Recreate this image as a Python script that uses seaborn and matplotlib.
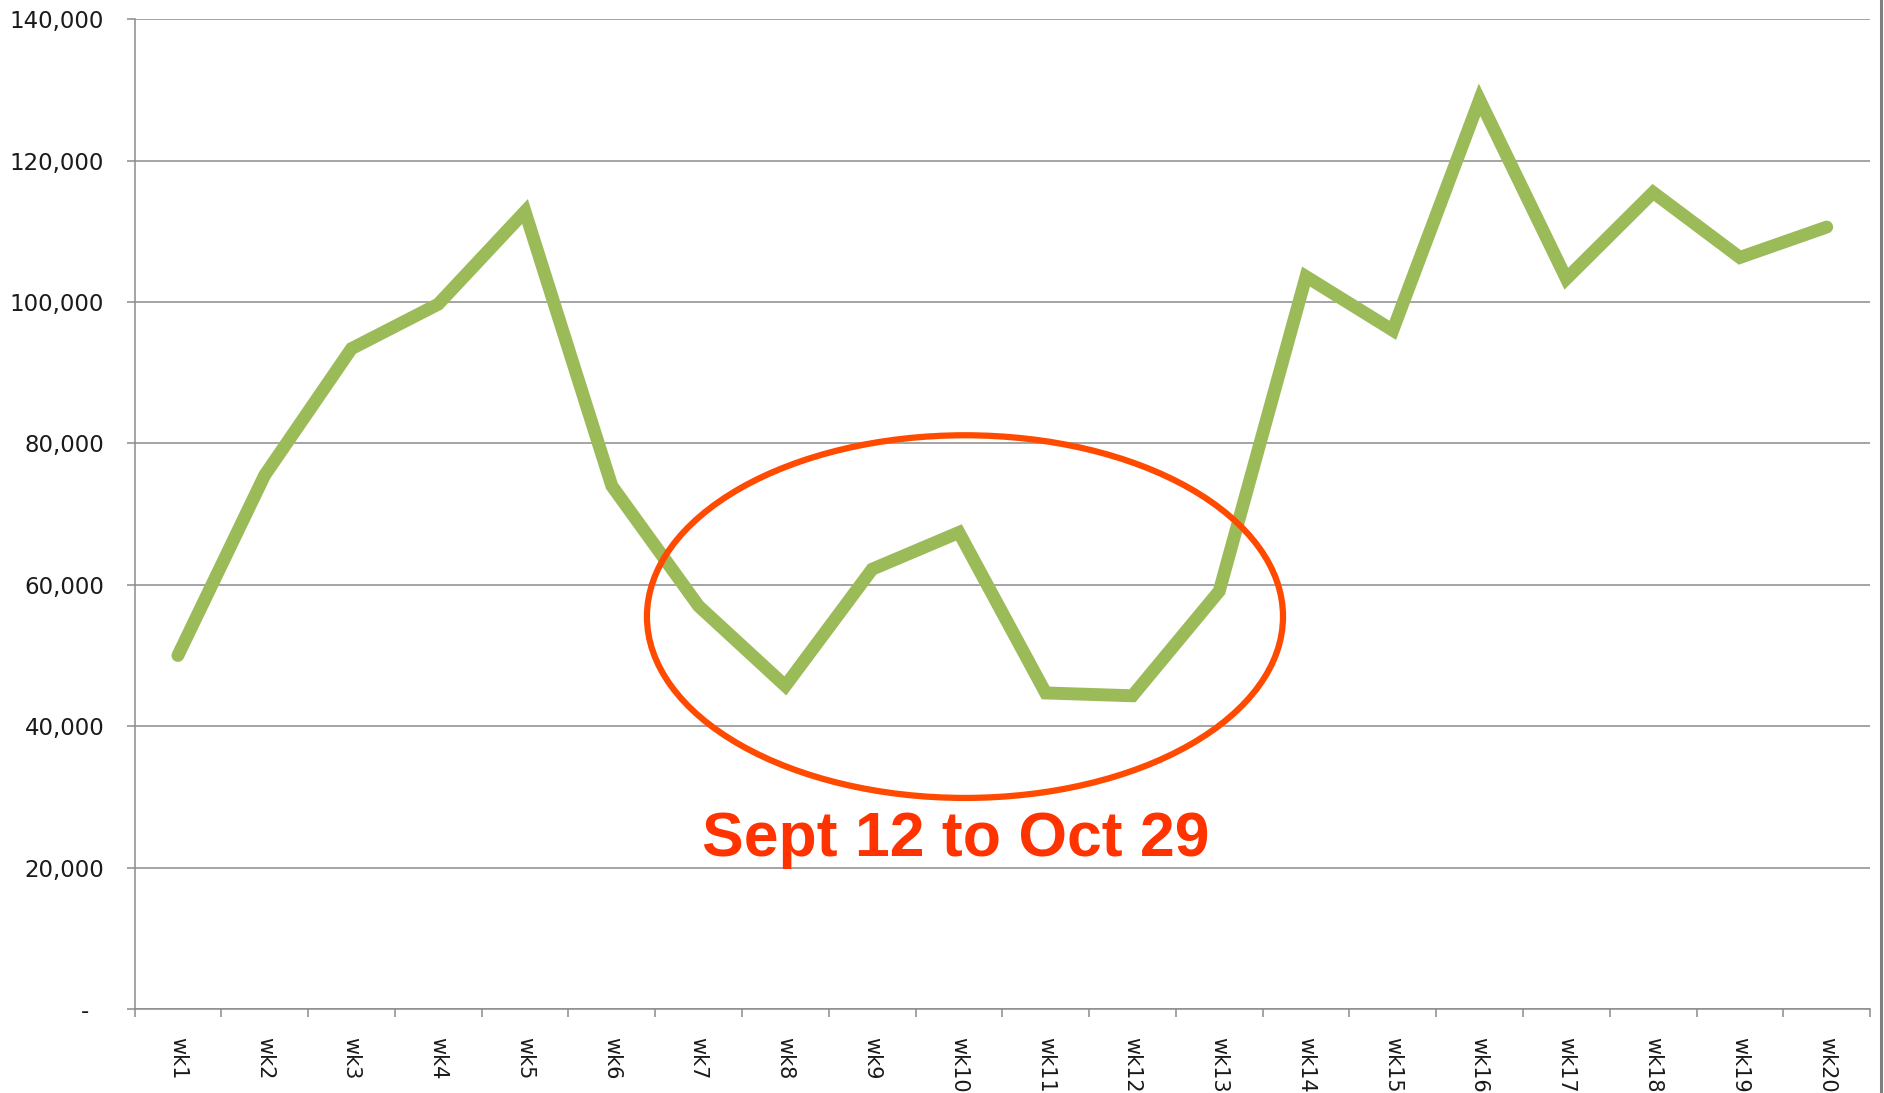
import matplotlib
matplotlib.use("Agg")
import matplotlib.pyplot as plt
import seaborn as sns
import pandas as pd
from matplotlib.patches import Ellipse
from matplotlib.lines import Line2D
from matplotlib.ticker import FuncFormatter, FixedLocator

weeks = [f"wk{i}" for i in range(1, 21)]
values = [50000, 75500, 93400, 99700, 112800, 74000, 57000, 45700, 62200, 67400,
          44700, 44300, 59100, 103600, 96000, 128600, 103300, 115500, 106300, 110600]
y_ticks = [0, 20000, 40000, 60000, 80000, 100000, 120000, 140000]
annotation = "Sept 12 to Oct 29"

df = pd.DataFrame({"week": weeks, "value": values})

sns.set_style("white")
plt.rcParams['font.family'] = ['DejaVu Sans']

fig = plt.figure(figsize=(18.84, 10.93), dpi=100)
ax = fig.add_axes([0.0714, 0.0769, 0.9212, 0.9055])

sns.lineplot(data=df, x="week", y="value", ax=ax, color="#9BBB59", linewidth=9.3,
             solid_capstyle="round", solid_joinstyle="miter", zorder=3)

ax.set_xlim(-0.5, len(weeks) - 0.5)
ax.set_ylim(0, 140000)
ax.set_xlabel("")
ax.set_ylabel("")

# y axis
ax.set_yticks(y_ticks)
ax.yaxis.set_major_formatter(FuncFormatter(lambda v, p: "-  " if v == 0 else f"{int(v):,}"))
ax.grid(axis="y", color="#8C8C8C", linewidth=1.1)
ax.tick_params(axis="y", left=True, length=5.8, width=1.1, color="#8C8C8C", labelsize=16.5,
               labelcolor="#1a1a1a", pad=16)

# x axis: labels at categories, tick marks between
ax.set_xticks(range(len(weeks)))
ax.set_xticklabels(weeks, rotation=-90, fontsize=15, color="#1a1a1a")
ax.xaxis.set_minor_locator(FixedLocator([i - 0.5 for i in range(len(weeks) + 1)]))
ax.tick_params(axis="x", which="major", bottom=True, length=0, pad=20)
ax.tick_params(axis="x", which="minor", bottom=True, length=5.8, width=1.1, color="#8C8C8C")

for s in ["top", "right"]:
    ax.spines[s].set_visible(False)
for s in ["left", "bottom"]:
    ax.spines[s].set_color("#8C8C8C")
    ax.spines[s].set_linewidth(1.1)

# highlight ellipse
ell = Ellipse((9.07, 55500), width=7.33, height=51300, fill=False,
              edgecolor="#FF4A00", linewidth=4.5, zorder=4)
ax.add_patch(ell)
ax.text(8.96, 21700, annotation, ha="center", va="baseline", fontsize=45,
        fontweight="bold", color="#FF3300", family=["Liberation Sans", "DejaVu Sans"], zorder=5)

# right border line of chart
fig.add_artist(Line2D([0.9982, 0.9982], [0, 1], transform=fig.transFigure,
                      color="#7F7F7F", linewidth=2.2))

fig.savefig("out.png", dpi=100)
